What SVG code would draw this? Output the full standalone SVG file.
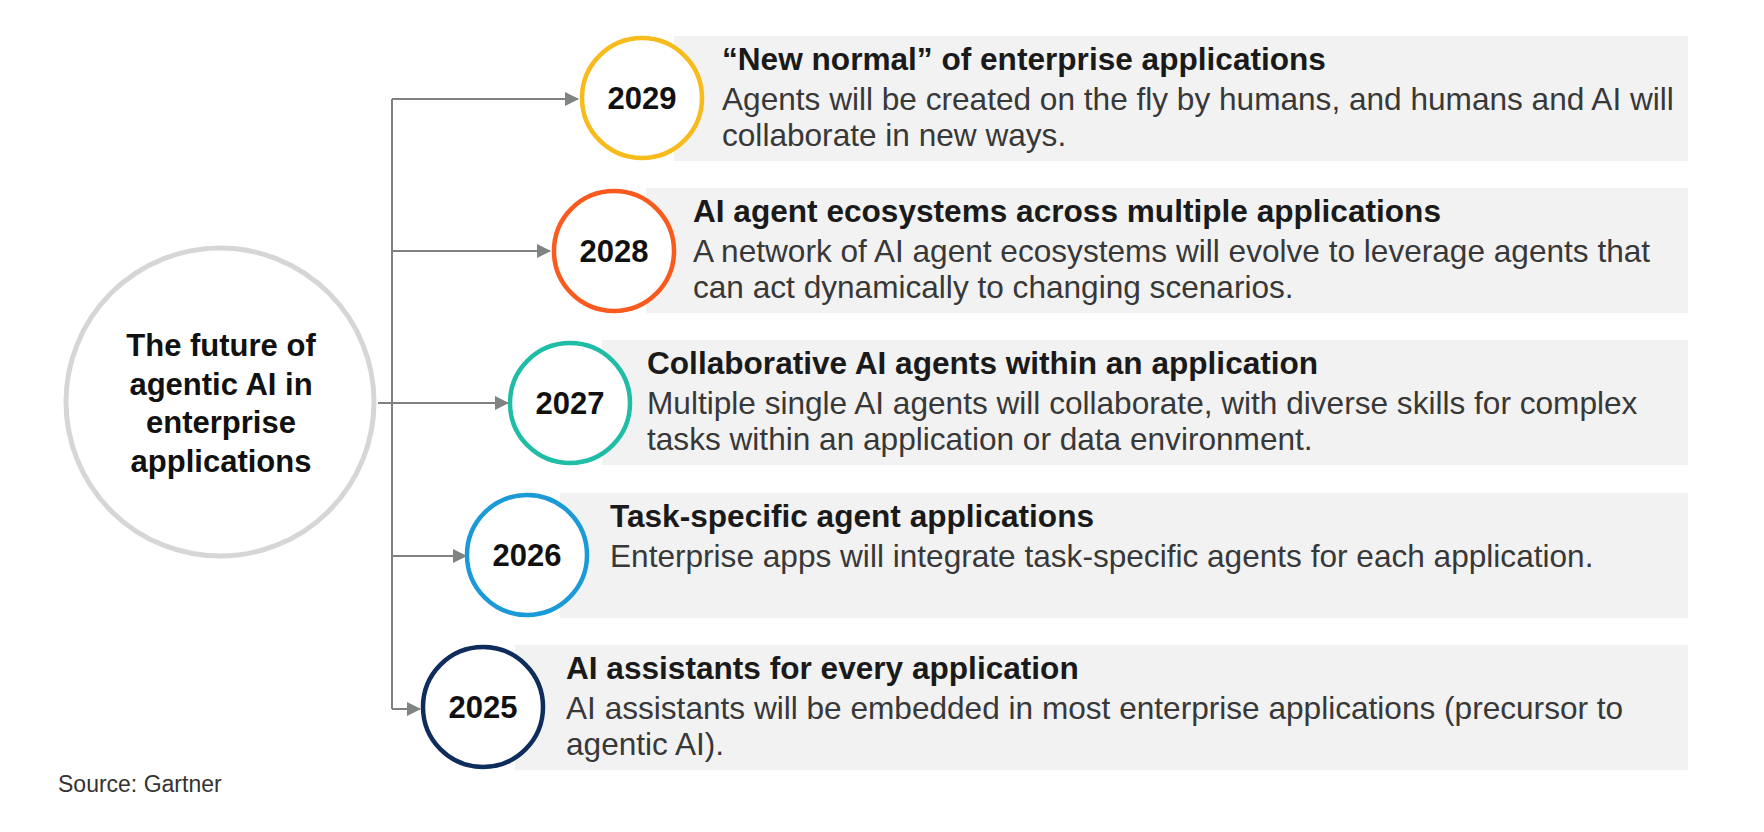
<svg xmlns="http://www.w3.org/2000/svg" width="1764" height="832" viewBox="0 0 1764 832">
<style>
text{font-family:"Liberation Sans",Arial,sans-serif;}
.bg{fill:#f2f2f2;}
.yr{fill:#fff;stroke-width:4.5;}
.year{font-size:31px;font-weight:bold;fill:#111;text-anchor:middle;}
.ttl{font-size:31.6px;font-weight:bold;fill:#1a1a1a;}
.body{font-size:31.6px;fill:#383838;}
.conn{stroke:#808080;stroke-width:2;fill:none;}
.center{font-size:31px;font-weight:bold;fill:#111;text-anchor:middle;}
</style>
<defs>
<marker id="ah" viewBox="0 0 14 14" refX="13" refY="7" markerWidth="14" markerHeight="14" markerUnits="userSpaceOnUse" orient="auto">
<path d="M0,0 L14,7 L0,14 Z" fill="#7f8384"/>
</marker>
</defs>
<rect width="1764" height="832" fill="#fff"/>

<g id="connectors">
<path class="conn" d="M392,99 V709"/>
<path class="conn" d="M392,99 H578" marker-end="url(#ah)"/>
<path class="conn" d="M392,251 H550" marker-end="url(#ah)"/>
<path class="conn" d="M378,403 H508" marker-end="url(#ah)"/>
<path class="conn" d="M392,556 H466" marker-end="url(#ah)"/>
<path class="conn" d="M392,709 H420" marker-end="url(#ah)"/>
</g>

<g id="node-center">
<circle cx="220" cy="402" r="154" fill="#fff" stroke="#d6d6d6" stroke-width="5"/>
<text class="center" x="221" y="356">The future of</text>
<text class="center" x="221" y="394.5">agentic AI in</text>
<text class="center" x="221" y="433">enterprise</text>
<text class="center" x="221" y="471.5">applications</text>
</g>

<g id="node-2029">
<rect class="bg" x="674" y="36" width="1014" height="125"/>
<circle class="yr" cx="642" cy="98" r="60" stroke="#f8bb1c"/>
<text class="year" x="642" y="109">2029</text>
<text class="ttl" x="722" y="70">“New normal” of enterprise applications</text>
<text class="body" x="722" y="110">Agents will be created on the fly by humans, and humans and AI will</text>
<text class="body" x="722" y="146">collaborate in new ways.</text>
</g>

<g id="node-2028">
<rect class="bg" x="646" y="188" width="1042" height="125"/>
<circle class="yr" cx="614" cy="251" r="60" stroke="#fa5a1e"/>
<text class="year" x="614" y="262">2028</text>
<text class="ttl" x="693" y="222">AI agent ecosystems across multiple applications</text>
<text class="body" x="693" y="262">A network of AI agent ecosystems will evolve to leverage agents that</text>
<text class="body" x="693" y="298">can act dynamically to changing scenarios.</text>
</g>

<g id="node-2027">
<rect class="bg" x="602" y="340" width="1086" height="125"/>
<circle class="yr" cx="570" cy="403" r="60" stroke="#1fbca6"/>
<text class="year" x="570" y="414">2027</text>
<text class="ttl" x="647" y="374">Collaborative AI agents within an application</text>
<text class="body" x="647" y="414">Multiple single AI agents will collaborate, with diverse skills for complex</text>
<text class="body" x="647" y="450">tasks within an application or data environment.</text>
</g>

<g id="node-2026">
<rect class="bg" x="560" y="493" width="1128" height="125"/>
<circle class="yr" cx="527" cy="555" r="60" stroke="#1b9ad8"/>
<text class="year" x="527" y="566">2026</text>
<text class="ttl" x="610" y="527">Task-specific agent applications</text>
<text class="body" x="610" y="567">Enterprise apps will integrate task-specific agents for each application.</text>
</g>

<g id="node-2025">
<rect class="bg" x="515" y="645" width="1173" height="125"/>
<circle class="yr" cx="483" cy="707" r="60" stroke="#0e2d5c"/>
<text class="year" x="483" y="718">2025</text>
<text class="ttl" x="566" y="679">AI assistants for every application</text>
<text class="body" x="566" y="719">AI assistants will be embedded in most enterprise applications (precursor to</text>
<text class="body" x="566" y="755">agentic AI).</text>
</g>

<text x="58" y="792" font-size="23" fill="#333">Source: Gartner</text>
</svg>
